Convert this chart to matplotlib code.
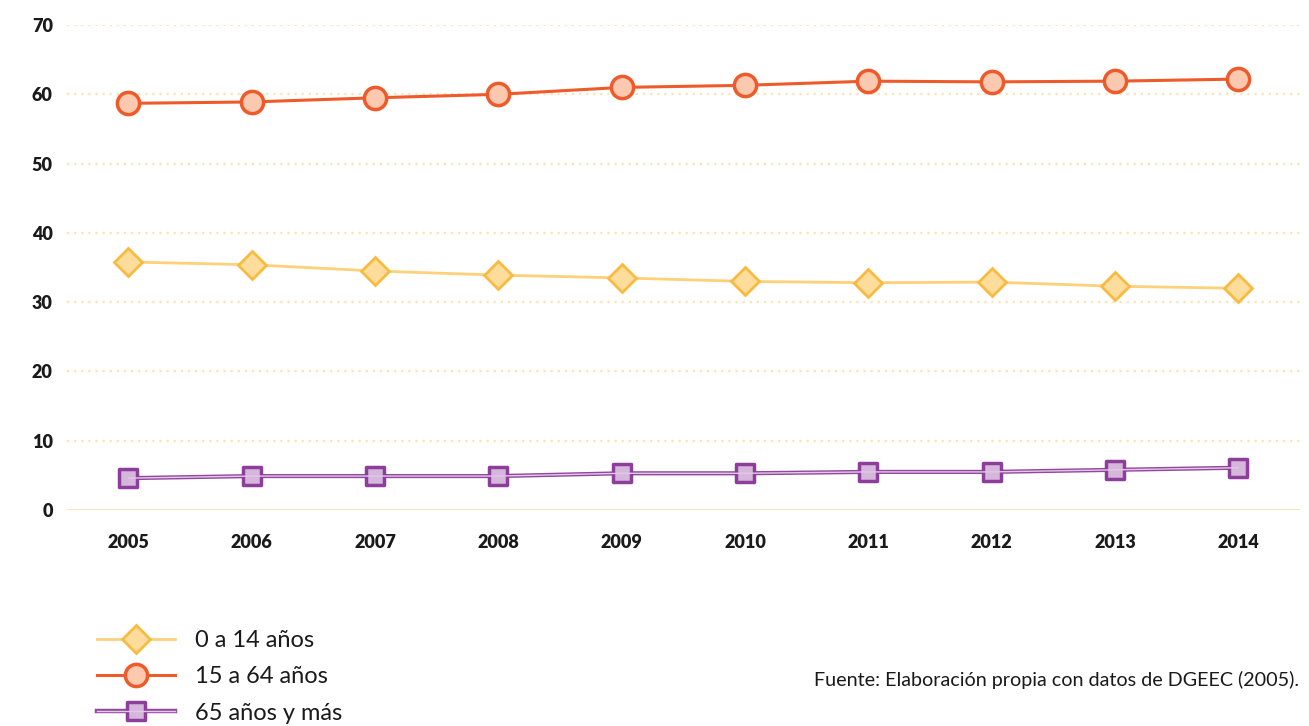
import matplotlib
matplotlib.use("Agg")
import matplotlib.pyplot as plt
from matplotlib.markers import MarkerStyle

plt.rcParams['font.family'] = ['Lato', 'DejaVu Sans']

# datos
years = [2005, 2006, 2007, 2008, 2009, 2010, 2011, 2012, 2013, 2014]
edad_0_14 = [35.8, 35.4, 34.5, 33.9, 33.5, 33.0, 32.8, 32.9, 32.3, 32.0]
edad_15_64 = [58.7, 58.9, 59.5, 60.0, 61.0, 61.3, 61.9, 61.8, 61.9, 62.2]
edad_65_mas = [4.6, 4.9, 4.9, 4.9, 5.3, 5.3, 5.5, 5.5, 5.8, 6.1]
yticks = [0, 10, 20, 30, 40, 50, 60, 70]

fig = plt.figure(figsize=(13.09, 7.26), dpi=100)
ax = fig.add_axes([0.051, 0.2975, 0.942, 0.668])

# lineas de fondo
for t in yticks[1:]:
    ax.axhline(t, color='#FDE2B5', lw=1.6, ls=(0, (1, 2.2)), zorder=0)
ax.axhline(0, color='#FDE2B5', lw=2.2, zorder=0)

l1, = ax.plot(years, edad_0_14, color='#FDD07A', lw=2, marker='D', ms=14,
              mfc='#FEDC9C', mec='#F9BB3F', mew=2, label='0 a 14 años', zorder=3)
l2, = ax.plot(years, edad_15_64, color='#EF5A2A', lw=2.2, marker='o', ms=16,
              mfc='#FBC8B0', mec='#EF5A2A', mew=2.5, label='15 a 64 años', zorder=3)
sq = MarkerStyle('s', joinstyle='round')
l3a, = ax.plot(years, edad_65_mas, color='#93479F', lw=3, marker=sq, ms=13,
               mfc='#D5B7DB', mec='#8C3E9A', mew=2.5, zorder=3)
l3b, = ax.plot(years, edad_65_mas, color='#E3C8E8', lw=1, zorder=3.5)

ax.set_xlim(2004.5, 2014.5)
ax.set_ylim(0, 70)
ax.set_yticks(yticks)
ax.set_xticks(years)
ax.tick_params(length=0, labelsize=13, colors='#1a1a1a')
ax.tick_params(axis='x', pad=17)
ax.tick_params(axis='y', pad=10)
for lab in ax.get_xticklabels() + ax.get_yticklabels():
    lab.set_fontweight('heavy')
for s in ax.spines.values():
    s.set_visible(False)

# leyenda
l3_leg, = ax.plot([], [], color='#93479F', lw=3.2, marker=sq, ms=13,
                  mfc='#D5B7DB', mec='#8C3E9A', mew=2.5)
l3_in, = ax.plot([], [], color='#E3C8E8', lw=1)
leg = fig.legend([l1, l2, (l3_leg, l3_in)], ['0 a 14 años', '15 a 64 años', '65 años y más'],
                 loc='upper left', bbox_to_anchor=(0.058, 0.161), frameon=False,
                 fontsize=17, handlelength=3.3, labelspacing=0.64, handletextpad=0.85)
for t in leg.get_texts():
    t.set_color('#1a1a1a')

fig.text(0.992, 0.063, 'Fuente: Elaboración propia con datos de DGEEC (2005).',
         ha='right', va='center', fontsize=14.2, color='#1a1a1a')

fig.savefig('out.png', dpi=100, facecolor='white')
